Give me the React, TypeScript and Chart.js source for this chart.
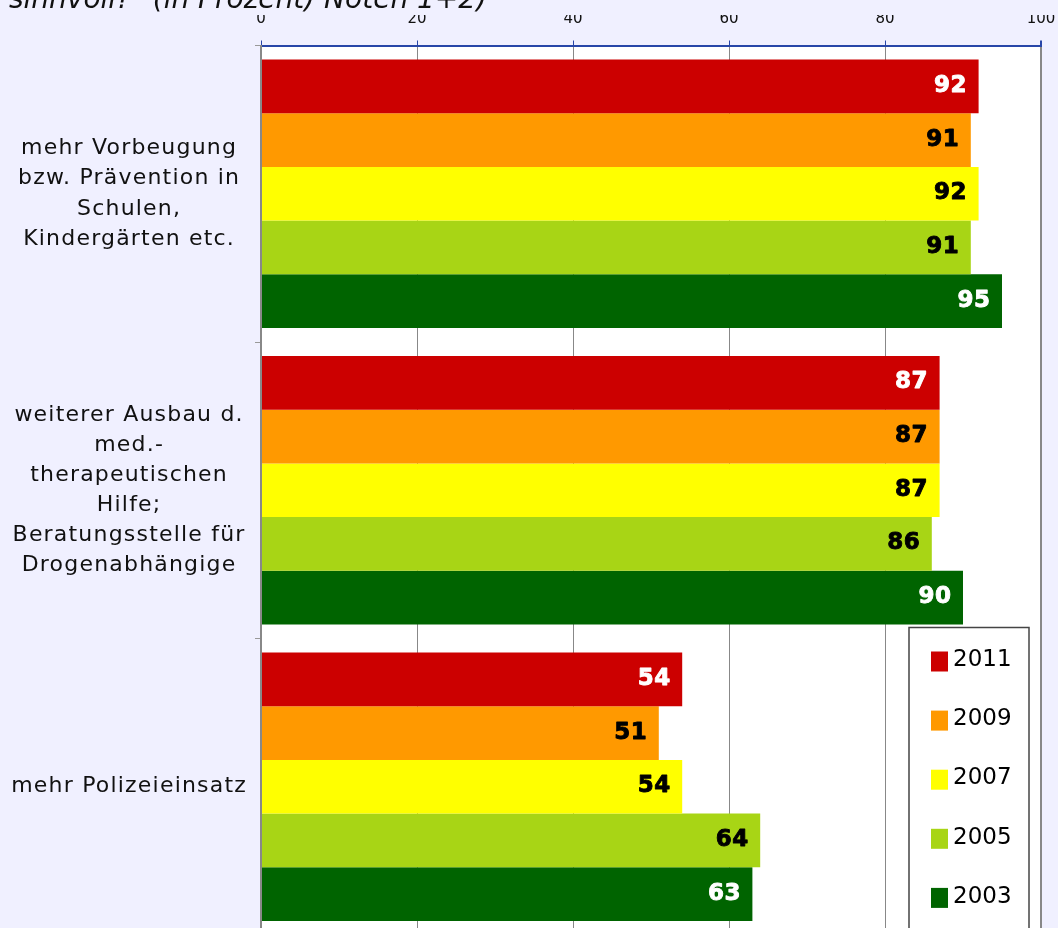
import { useEffect, useRef } from "react";
import { Chart, registerables } from "chart.js";

Chart.register(...registerables);

// ---- data ----
const categories: (string | string[])[] = [
  ["mehr Vorbeugung", "bzw. Prävention in", "Schulen,", "Kindergärten etc."],
  ["weiterer Ausbau d.", "med.-", "therapeutischen", "Hilfe;", "Beratungsstelle für", "Drogenabhängige"],
  "mehr Polizeieinsatz",
];
const seriesLabels = ["2011", "2009", "2007", "2005", "2003"];
const values2011 = [92, 87, 54];
const values2009 = [91, 87, 51];
const values2007 = [92, 87, 54];
const values2005 = [91, 86, 64];
const values2003 = [95, 90, 63];
const xTicks = [0, 20, 40, 60, 80, 100];
const titleText = 'sinnvoll?" (in Prozent) Noten 1+2)';

// ---- styles ----
const barColors = ["#CC0000", "#FF9900", "#FFFF00", "#A8D515", "#006400"];
const valueTextColors = ["#FFFFFF", "#000000", "#000000", "#000000", "#FFFFFF"];
const FONT = "'DejaVu Sans', Verdana, sans-serif";
const CANVAS_W = 1058;
const CANVAS_H = 956;

const seriesValues = [values2011, values2009, values2007, values2005, values2003];

const backgroundPlugin = {
  id: "bgPlugin",
  beforeUpdate(chart: any) {
    chart.ctx.letterSpacing = "1.2px";
  },
  beforeDraw(chart: any) {
    const { ctx, chartArea, width, height } = chart;
    ctx.save();
    ctx.fillStyle = "#F0F0FF";
    ctx.fillRect(0, 0, width, height);
    ctx.fillStyle = "#FFFFFF";
    ctx.fillRect(chartArea.left, chartArea.top, chartArea.right - chartArea.left, chartArea.bottom - chartArea.top);
    ctx.restore();
    ctx.letterSpacing = "0px";
  },
  afterDatasetsDraw(chart: any) {
    const ctx = chart.ctx;
    ctx.save();
    ctx.letterSpacing = "0.5px";
    ctx.font = `bold 23px ${FONT}`;
    ctx.textAlign = "right";
    ctx.textBaseline = "middle";
    ctx.lineWidth = 0.9;
    ctx.lineJoin = "round";
    chart.data.datasets.forEach((ds: any, i: number) => {
      const meta = chart.getDatasetMeta(i);
      meta.data.forEach((bar: any, j: number) => {
        ctx.fillStyle = valueTextColors[i];
        ctx.strokeStyle = valueTextColors[i];
        const t = String(ds.data[j]);
        ctx.fillText(t, bar.x - 11.5, bar.y - 0.5);
        ctx.strokeText(t, bar.x - 11.5, bar.y - 0.5);
      });
    });
    ctx.restore();
    ctx.letterSpacing = "1.2px";
  },
  afterDraw(chart: any) {
    const ctx = chart.ctx;
    const ca = chart.chartArea;
    const left = ca.right - 132;
    const top = ca.top + 582;
    const w = 120;
    const h = 360;
    ctx.save();
    ctx.letterSpacing = "0px";
    ctx.fillStyle = "#FFFFFF";
    ctx.fillRect(left, top, w, h);
    ctx.strokeStyle = "#444444";
    ctx.lineWidth = 1.5;
    ctx.strokeRect(left, top, w, h);
    ctx.font = `23px ${FONT}`;
    ctx.textAlign = "left";
    ctx.textBaseline = "alphabetic";
    chart.data.datasets.forEach((ds: any, i: number) => {
      const cy = top + 34 + i * 59.1;
      ctx.fillStyle = ds.backgroundColor;
      ctx.fillRect(left + 22, cy - 10, 17, 20);
      ctx.fillStyle = "#000000";
      ctx.fillText(ds.label, left + 44, cy + 4.7);
    });
    ctx.restore();
  },
};

export default function App() {
  const ref = useRef<HTMLCanvasElement>(null);
  useEffect(() => {
    const chart = new Chart(ref.current as HTMLCanvasElement, {
      type: "bar",
      data: {
        labels: categories,
        datasets: seriesLabels.map((label, i) => ({
          label,
          data: seriesValues[i],
          backgroundColor: barColors[i],
          borderWidth: 0,
          barPercentage: 1,
          categoryPercentage: 0.905,
        })),
      },
      options: {
        indexAxis: "y",
        animation: false,
        responsive: false,
        devicePixelRatio: 1,
        layout: { padding: { left: 9, right: 17, top: 0, bottom: 8 } },
        plugins: {
          legend: { display: false },
          tooltip: { enabled: false },
          title: {
            display: true,
            text: titleText,
            align: "start",
            color: "#111111",
            padding: { top: 0, bottom: 0 },
            font: { family: FONT, size: 28, style: "italic", weight: "normal", lineHeight: 1 },
          },
        },
        scales: {
          x: {
            position: "top",
            min: 0,
            max: 100,
            afterBuildTicks: (scale: any) => {
              scale.ticks = xTicks.map((v) => ({ value: v }));
            },
            afterFit: (scale: any) => {
              scale.height = 30.5;
              scale.paddingLeft = 0;
              scale.paddingRight = 0;
            },
            ticks: {
              color: "#111111",
              padding: 13.5,
              font: { family: FONT, size: 15, lineHeight: 1 },
            },
            grid: {
              color: "#888888",
              tickColor: "#2846A8",
              tickLength: 5,
              lineWidth: (ctx: any) => (ctx.index === xTicks.length - 1 ? 2 : 1),
            },
            border: { color: "#2846A8", width: 2 },
          },
          y: {
            afterFit: (scale: any) => {
              scale.width = 252;
              scale.paddingTop = 0;
              scale.paddingBottom = 0;
            },
            ticks: {
              color: "#111111",
              crossAlign: "center",
              padding: 8,
              z: 1,
              font: { family: FONT, size: 22, lineHeight: 1.37 },
            },
            grid: {
              display: true,
              drawOnChartArea: false,
              drawTicks: true,
              tickLength: 6,
              color: "#999999",
              offset: true,
            },
            border: { color: "#888888", width: 2, z: 1 },
          },
        },
      },
      plugins: [backgroundPlugin],
    } as any);
    return () => chart.destroy();
  }, []);

  return (
    <div
      style={{
        position: "fixed",
        left: 0,
        top: 0,
        width: 1058,
        height: 928,
        overflow: "hidden",
        background: "#F0F0FF",
      }}
    >
      <canvas
        ref={ref}
        width={CANVAS_W}
        height={CANVAS_H}
        style={{ position: "absolute", left: 0, top: -13, display: "block", width: CANVAS_W, height: CANVAS_H }}
      />
    </div>
  );
}
